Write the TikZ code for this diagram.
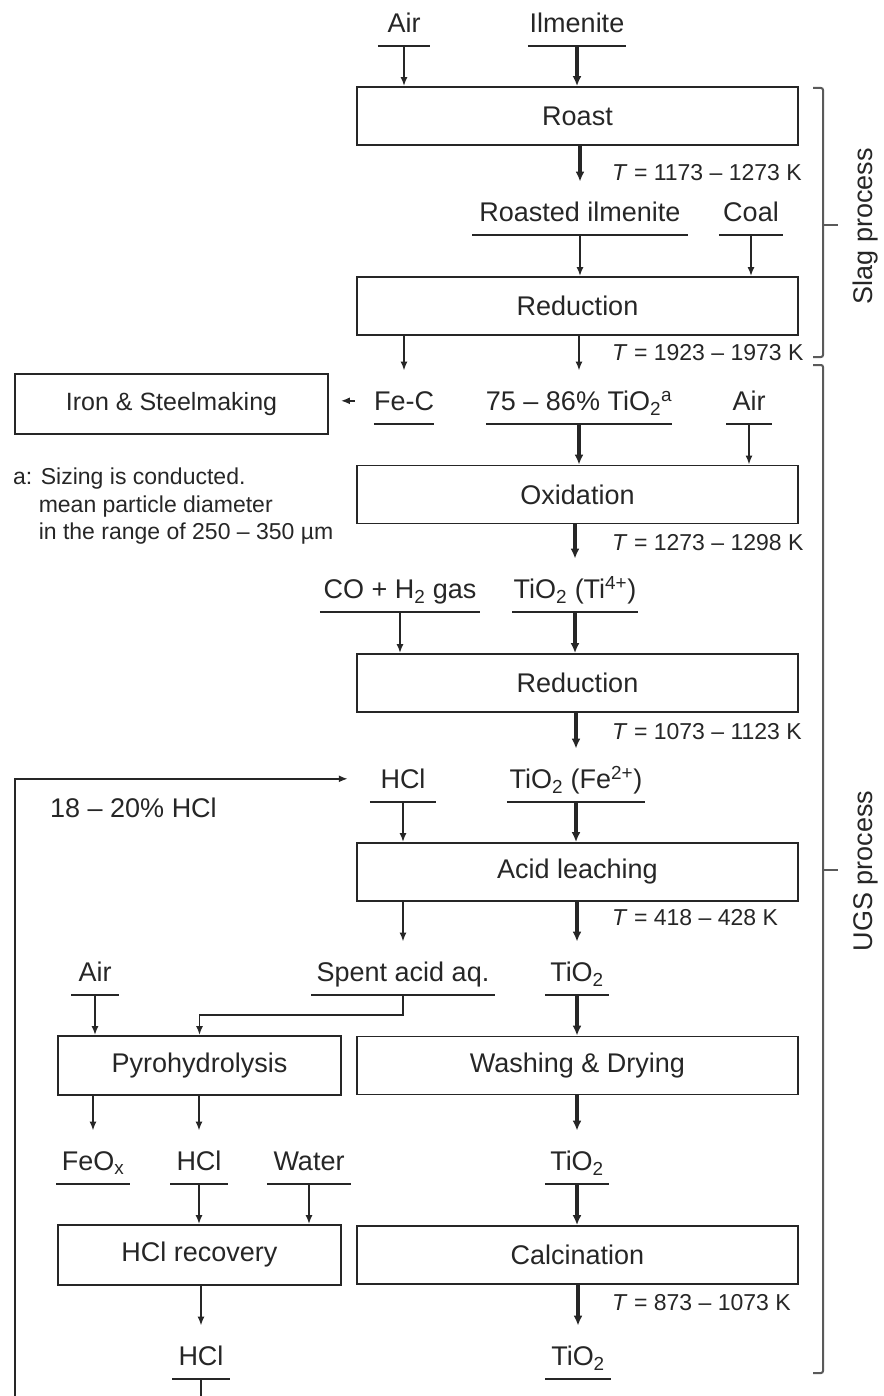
\documentclass[tikz,border=0pt]{standalone}
\usepackage{fontspec}
\setmainfont{Liberation Sans}
\usetikzlibrary{arrows.meta,positioning,calc}
\definecolor{ink}{HTML}{262626}
\definecolor{muted}{HTML}{5A5A5A}
\newcommand\labfont{\fontsize{27}{32}\selectfont}
\newcommand\notefont{\fontsize{23}{27.5}\selectfont}
\tikzset{arr/.style={-{Latex[length=9pt,width=7pt]},line width=1.7pt,draw=ink},
  mainarr/.style={-{Latex[length=10pt,width=9pt]},line width=3.2pt,draw=ink},
  proc/.style={draw=ink,line width=1.8pt,minimum width=441pt,minimum height=58pt,inner sep=0pt,font=\labfont,text=ink},
  stream/.style={anchor=south,inner sep=0pt,text height=40pt,text depth=13pt,font=\labfont,text=ink},
  bar/.style={line width=1.8pt,draw=ink},
  mainbar/.style={line width=2.8pt,draw=ink},
  temp/.style={anchor=west,inner sep=0pt,font=\notefont,text=ink},
  brace/.style={line width=2pt,draw=muted,rounded corners=2pt}}
\begin{document}
\begin{tikzpicture}[x=1pt,y=-1pt]
\useasboundingbox (0,0) rectangle (883,1396);
\clip (0,0) rectangle (883,1396);
% process units, main line
\node[proc] (roast) at (577.5,116) {Roast};
\node[proc] (red1) at (577.5,306) {Reduction};
\node[proc] (ox) at (577.5,494.5) {Oxidation};
\node[proc] (red2) at (577.5,683) {Reduction};
\node[proc] (leach) at (577.5,872) {Acid leaching};
\node[proc] (wash) at (577.5,1065.5) {Washing \& Drying};
\node[proc] (calc) at (577.5,1255) {Calcination};
% side units
\node[proc,minimum width=313pt,minimum height=60pt,font=\fontsize{25}{30}\selectfont] (iron) at (171.5,404) {Iron \& Steelmaking};
\node[proc,minimum width=283pt,minimum height=59pt] (pyro) at (199.5,1065.5) {Pyrohydrolysis};
\node[proc,minimum width=283pt,minimum height=60pt] (hclrec) at (199.5,1255) {HCl recovery};
% streams
\node[stream,minimum width=52pt] (air1) at (404,46) {Air};
\node[stream,minimum width=98pt] (ilm) at (577,46) {Ilmenite};
\node[stream,minimum width=215pt] (roil) at (580,235) {Roasted ilmenite};
\node[stream,minimum width=64pt] (coal) at (751,235) {Coal};
\node[stream,minimum width=60pt] (fec) at (404,424) {Fe-C};
\node[stream,minimum width=184pt] (ti86) at (579,424) {75 -- 86\% TiO\textsubscript{2}\textsuperscript{a}};
\node[stream,minimum width=45pt] (air2) at (749,424) {Air};
\node[stream,minimum width=160pt] (coh) at (400,612) {CO + H\textsubscript{2} gas};
\node[stream,minimum width=125pt] (ti4) at (575,612) {TiO\textsubscript{2} (Ti\textsuperscript{4+})};
\node[stream,minimum width=66pt] (hcl1) at (403,802) {HCl};
\node[stream,minimum width=138pt] (fe2) at (576,802) {TiO\textsubscript{2} (Fe\textsuperscript{2+})};
\node[stream,minimum width=183pt] (spent) at (403,995) {Spent acid aq.};
\node[stream,minimum width=64pt] (tio2b) at (577,995) {TiO\textsubscript{2}};
\node[stream,minimum width=47pt] (air3) at (95,995) {Air};
\node[stream,minimum width=73pt] (feox) at (93,1184) {FeO\textsubscript{x}};
\node[stream,minimum width=57pt] (hcl2) at (199,1184) {HCl};
\node[stream,minimum width=84pt] (water) at (309,1184) {Water};
\node[stream,minimum width=64pt] (tio2c) at (577,1184) {TiO\textsubscript{2}};
\node[stream,minimum width=57pt] (hcl3) at (201,1379) {HCl};
\node[stream,minimum width=65pt] (tio2d) at (578,1379) {TiO\textsubscript{2}};
\foreach \n in {air1,fec,ti86,coh,spent,feox,hcl2,water}{\draw[bar] (\n.south west) -- (\n.south east);}
\foreach \n in {ilm,roil,coal,air2,ti4,hcl1,fe2,tio2b,air3,tio2c,hcl3,tio2d}{\draw[mainbar] (\n.south west) -- (\n.south east);}
% temperatures
\foreach \n/\y/\a/\b in {troast/173/1173/1273,tred1/353/1923/1973,tox/543/1273/1298,tred2/732/1073/1123,tleach/918/418/428,tcalc/1303/873/1073}{
\node[temp] (\n) at (612,\y) {\textit{T} = \a{} -- \b{} K};
}
% notes
\node[anchor=base west,inner sep=0pt,font=\labfont,text=ink] (conc) at (50,817) {18 -- 20\% HCl};
\node[anchor=north west,inner sep=0pt,align=left,font=\notefont,text=ink] (note) at (13,468) {a: Sizing is conducted.\\\phantom{a:\ }mean particle diameter\\\phantom{a:\ }in the range of 250 -- 350 µm};
% flows
\draw[arr] (air1.south) -- (air1.south |- roast.north);
\draw[mainarr] (ilm.south) -- (ilm.south |- roast.north);
\draw[mainarr] (roil.north |- roast.south) -- (roil.north);
\draw[arr] (roil.south) -- (roil.south |- red1.north);
\draw[arr] (coal.south) -- (coal.south |- red1.north);
\draw[arr] (fec.north |- red1.south) -- (fec.north);
\draw[arr] (ti86.north |- red1.south) -- (ti86.north);
\coordinate (fecout) at ([xshift=-19pt,yshift=10pt]fec.base west);
\draw[arr,shorten >=12pt] (fecout) -- (fecout -| iron.east);
\draw[mainarr] (ti86.south) -- (ti86.south |- ox.north);
\draw[arr] (air2.south) -- (air2.south |- ox.north);
\draw[mainarr] (ti4.north |- ox.south) -- (ti4.north);
\draw[arr] (coh.south) -- (coh.south |- red2.north);
\draw[mainarr] (ti4.south) -- (ti4.south |- red2.north);
\draw[mainarr] (fe2.north |- red2.south) -- (fe2.north);
\draw[arr] (hcl1.south) -- (hcl1.south |- leach.north);
\draw[mainarr] (fe2.south) -- (fe2.south |- leach.north);
\draw[arr] (spent.north |- leach.south) -- (spent.north);
\draw[mainarr] (tio2b.north |- leach.south) -- (tio2b.north);
\draw[arr] (spent.south) -- ++(0,20) -| (pyro.north);
\draw[arr] (air3.south) -- (air3.south |- pyro.north);
\draw[mainarr] (tio2b.south) -- (tio2b.south |- wash.north);
\draw[arr] (feox.north |- pyro.south) -- (feox.north);
\draw[arr] (hcl2.north |- pyro.south) -- (hcl2.north);
\draw[mainarr] (tio2c.north |- wash.south) -- (tio2c.north);
\draw[arr] (hcl2.south) -- (hcl2.south |- hclrec.north);
\draw[arr] (water.south) -- (water.south |- hclrec.north);
\draw[mainarr] (tio2c.south) -- (tio2c.south |- calc.north);
\draw[arr] (hcl3.north |- hclrec.south) -- (hcl3.north);
\draw[mainarr] (tio2d.north |- calc.south) -- (tio2d.north);
% HCl recycle
\coordinate (hclin) at ([xshift=-22pt,yshift=10pt]hcl1.base west);
\coordinate (loop) at (15,1440);
\draw[arr] (hcl3.south) |- (loop) |- (hclin);
% process brackets
\draw[brace] (813,88) -- (823,88) -- (823,357) -- (813,357);
\draw[brace] (823,225) -- (838,225);
\draw[brace] (813,365) -- (823,365) -- (823,1373) -- (813,1373);
\draw[brace] (823,870) -- (838,870);
\node[rotate=90,font=\labfont,text=ink] (slag) at (866,226) {Slag process};
\node[rotate=90,font=\labfont,text=ink] (ugs) at (866,871) {UGS process};
\end{tikzpicture}
\end{document}
